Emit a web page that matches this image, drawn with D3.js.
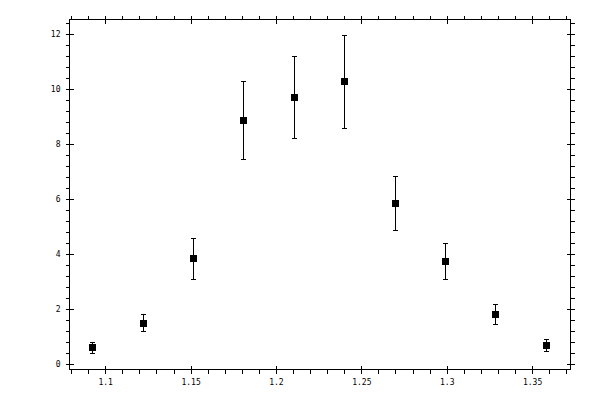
<!DOCTYPE html>
<html>
<head>
<meta charset="utf-8">
<script src="https://cdn.jsdelivr.net/npm/d3@7"></script>
<style>
  body { margin: 0; background: #fff; }
  text { font-family: "DejaVu Sans Mono", monospace; font-size: 8px; fill: #000; }
</style>
</head>
<body>
<div id="chart"></div>
<script>
// data
var xs    = [1.0924, 1.1222, 1.1515, 1.1808, 1.2107, 1.2399, 1.2698, 1.2991, 1.3283, 1.3582];
var ys    = [0.62, 1.49, 3.85, 8.88, 9.71, 10.29, 5.85, 3.75, 1.82, 0.69];
var yLow  = [0.41, 1.20, 3.09, 7.45, 8.22, 8.58, 4.87, 3.10, 1.47, 0.47];
var yHigh = [0.80, 1.82, 4.57, 10.29, 11.20, 11.96, 6.84, 4.40, 2.17, 0.91];
var xTicks = [1.1, 1.15, 1.2, 1.25, 1.3, 1.35];
var yTicks = [0, 2, 4, 6, 8, 10, 12];

var width = 600, height = 400;
var pLeft = 69, pRight = 570, pTop = 19, pBottom = 369;

var x = d3.scaleLinear().domain([1.0788, 1.3722]).range([pLeft, pRight]);
var y = d3.scaleLinear().domain([-0.18, 12.55]).range([pBottom, pTop]);

var svg = d3.select('#chart')
    .append('svg')
    .attr('width', width)
    .attr('height', height);

var xMinor = d3.range(1.08, 1.3701, 0.01).map(function(v) { return +v.toFixed(2); });
var yMinor = d3.range(0, 12.41, 0.4).map(function(v) { return +v.toFixed(1); });

function fmtX(d) { return String(+d.toFixed(2)); }

// minor ticks point outward, major ticks cross the frame
svg.append('g').attr('transform', 'translate(0,' + (pBottom + 0.5) + ')')
    .call(d3.axisBottom(x).tickValues(xMinor).tickSize(4).tickFormat(''));
svg.append('g').attr('transform', 'translate(0,' + (pTop + 0.5) + ')')
    .call(d3.axisTop(x).tickValues(xMinor).tickSize(4).tickFormat(''));
svg.append('g').attr('transform', 'translate(' + (pLeft + 0.5) + ',0)')
    .call(d3.axisLeft(y).tickValues(yMinor).tickSize(4).tickFormat(''));
svg.append('g').attr('transform', 'translate(' + (pRight + 0.5) + ',0)')
    .call(d3.axisRight(y).tickValues(yMinor).tickSize(4).tickFormat(''));

var bx = svg.append('g').attr('transform', 'translate(0,' + (pBottom + 4.5) + ')')
    .call(d3.axisBottom(x).tickValues(xTicks).tickSize(8).tickFormat(fmtX));
bx.selectAll('.tick line').attr('y1', -8).attr('y2', 0);
bx.selectAll('.tick text').attr('y', 6);

var tx = svg.append('g').attr('transform', 'translate(0,' + (pTop - 3.5) + ')')
    .call(d3.axisTop(x).tickValues(xTicks).tickSize(8).tickFormat(''));
tx.selectAll('.tick line').attr('y1', 8).attr('y2', 0);

var ly = svg.append('g').attr('transform', 'translate(' + (pLeft - 2.5) + ',0)')
    .call(d3.axisLeft(y).tickValues(yTicks).tickSize(7).tickFormat(d3.format('d')));
ly.selectAll('.tick line').attr('x1', 7).attr('x2', 0);
ly.selectAll('.tick text').attr('x', -6);

var ry = svg.append('g').attr('transform', 'translate(' + (pRight + 4.5) + ',0)')
    .call(d3.axisRight(y).tickValues(yTicks).tickSize(8).tickFormat(''));
ry.selectAll('.tick line').attr('x1', -8).attr('x2', 0);

svg.selectAll('.domain').remove();
svg.selectAll('.tick line').attr('stroke', '#000').attr('shape-rendering', 'crispEdges');

svg.append('rect')
    .attr('x', pLeft + 0.5).attr('y', pTop + 0.5)
    .attr('width', pRight - pLeft).attr('height', pBottom - pTop)
    .attr('fill', 'none').attr('stroke', '#000')
    .attr('shape-rendering', 'crispEdges');

var pts = xs.map(function(v, i) {
    return {x: v, y: ys[i], lo: yLow[i], hi: yHigh[i]};
});

var g = svg.append('g').attr('shape-rendering', 'crispEdges');

g.selectAll('line.bar')
    .data(pts).enter().append('line')
    .attr('class', 'bar')
    .attr('x1', function(d) { return Math.round(x(d.x)) + 0.5; })
    .attr('x2', function(d) { return Math.round(x(d.x)) + 0.5; })
    .attr('y1', function(d) { return y(d.lo); })
    .attr('y2', function(d) { return y(d.hi); })
    .attr('stroke', '#000');

g.selectAll('line.capHi')
    .data(pts).enter().append('line')
    .attr('class', 'capHi')
    .attr('x1', function(d) { return Math.round(x(d.x)) - 2; })
    .attr('x2', function(d) { return Math.round(x(d.x)) + 3; })
    .attr('y1', function(d) { return Math.round(y(d.hi)) + 0.5; })
    .attr('y2', function(d) { return Math.round(y(d.hi)) + 0.5; })
    .attr('stroke', '#000');

g.selectAll('line.capLo')
    .data(pts).enter().append('line')
    .attr('class', 'capLo')
    .attr('x1', function(d) { return Math.round(x(d.x)) - 2; })
    .attr('x2', function(d) { return Math.round(x(d.x)) + 3; })
    .attr('y1', function(d) { return Math.round(y(d.lo)) + 0.5; })
    .attr('y2', function(d) { return Math.round(y(d.lo)) + 0.5; })
    .attr('stroke', '#000');

g.selectAll('rect.pt')
    .data(pts).enter().append('rect')
    .attr('class', 'pt')
    .attr('x', function(d) { return Math.round(x(d.x)) - 3; })
    .attr('y', function(d) { return Math.round(y(d.y)) - 3; })
    .attr('width', 7)
    .attr('height', 7)
    .attr('fill', '#000');
</script>
</body>
</html>
